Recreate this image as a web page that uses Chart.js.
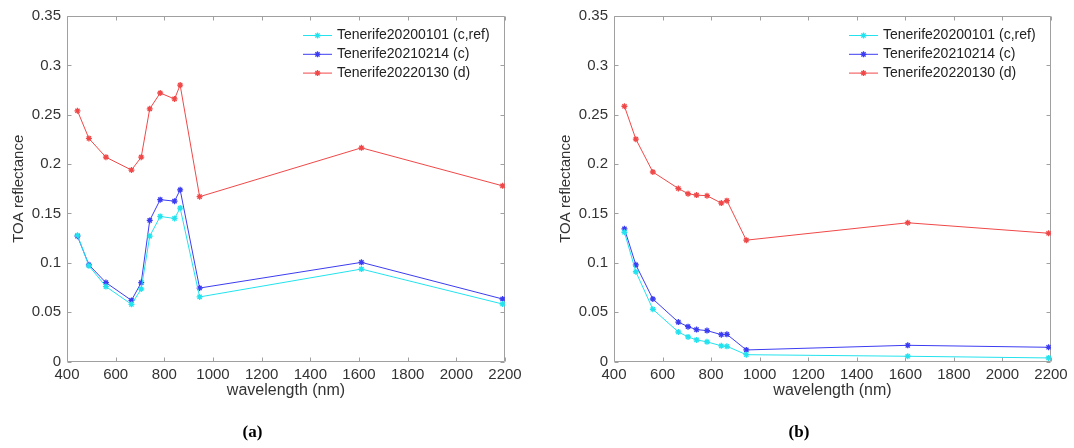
<!DOCTYPE html>
<html><head><meta charset="utf-8">
<script src="https://cdn.jsdelivr.net/npm/chart.js@4.4.0/dist/chart.umd.min.js"></script>
<style>
html,body{margin:0;padding:0;background:#fff;}
#wrap{position:relative;width:1074px;height:448px;overflow:hidden;}
.p{position:absolute;top:0;height:448px;}
#pa{left:0;width:537px;}
#pb{left:547px;width:527px;}
</style></head><body>
<div id="wrap">
<div class="p" id="pa"><canvas id="ca" width="537" height="448"></canvas></div>
<div class="p" id="pb"><canvas id="cb" width="527" height="448"></canvas></div>
</div>
<script>
// ---- data ----
const wavelengths = [443, 490, 560, 665, 705, 740, 783, 842, 865, 945, 1610, 2190];
const seriesLabels = ['Tenerife20200101 (c,ref)', 'Tenerife20210214 (c)', 'Tenerife20220130 (d)'];
const seriesColors = ['#22e3ee', '#3c3cf2', '#f04848'];

const panelA_20200101 = [0.128, 0.097, 0.076, 0.058, 0.0735, 0.127, 0.147, 0.145, 0.1555, 0.0655, 0.0937, 0.0583];
const panelA_20210214 = [0.127, 0.098, 0.080, 0.062, 0.080, 0.143, 0.164, 0.1625, 0.174, 0.0745, 0.1005, 0.0634];
const panelA_20220130 = [0.254, 0.226, 0.207, 0.194, 0.207, 0.256, 0.272, 0.266, 0.280, 0.167, 0.2165, 0.178];

const panelB_20200101 = [0.131, 0.091, 0.053, 0.030, 0.025, 0.022, 0.020, 0.016, 0.0155, 0.007, 0.0054, 0.0037];
const panelB_20210214 = [0.1345, 0.098, 0.0634, 0.040, 0.0354, 0.0324, 0.0314, 0.0273, 0.0276, 0.0118, 0.0165, 0.0145];
const panelB_20220130 = [0.2586, 0.2253, 0.192, 0.1753, 0.170, 0.1686, 0.168, 0.1605, 0.163, 0.123, 0.1406, 0.130];

const xTicks = [400, 600, 800, 1000, 1200, 1400, 1600, 1800, 2000, 2200];
const yTicks = [0, 0.05, 0.1, 0.15, 0.2, 0.25, 0.3, 0.35];

const FONT = '"Liberation Sans", Arial, Helvetica, sans-serif';

const framePlugin = {
  id: 'mframe',
  beforeDatasetsDraw(chart) {
    const { ctx, chartArea: a, scales } = chart;
    const L = Math.round(a.left) + 0.5, R = Math.round(a.right) - 0.5;
    const T = Math.round(a.top) + 0.5, B = Math.round(a.bottom) - 0.5;
    ctx.save();
    ctx.strokeStyle = '#a0a0a0';
    ctx.lineWidth = 1;
    ctx.beginPath();
    ctx.rect(L, T, R - L, B - T);
    ctx.stroke();
    ctx.beginPath();
    scales.x.ticks.forEach(t => {
      const px = Math.round(scales.x.getPixelForValue(t.value)) + 0.5;
      ctx.moveTo(px, B); ctx.lineTo(px, B - 4);
      ctx.moveTo(px, T); ctx.lineTo(px, T + 4);
    });
    scales.y.ticks.forEach(t => {
      const py = Math.round(scales.y.getPixelForValue(t.value)) + 0.5;
      ctx.moveTo(L, py); ctx.lineTo(L + 4, py);
      ctx.moveTo(R, py); ctx.lineTo(R - 4, py);
    });
    ctx.stroke();
    ctx.restore();
  }
};

const legendPlugin = {
  id: 'mlegend',
  afterDatasetsDraw(chart) {
    const { ctx, chartArea: a } = chart;
    const x0 = a.right - 202;
    ctx.save();
    ctx.font = '14px ' + FONT;
    ctx.textBaseline = 'middle';
    ctx.textAlign = 'left';
    chart.data.datasets.forEach((ds, i) => {
      const y = a.top + 19.5 + i * 18.8;
      ctx.strokeStyle = ds.borderColor;
      ctx.fillStyle = ds.borderColor;
      ctx.lineWidth = 1;
      ctx.beginPath(); ctx.moveTo(x0, y); ctx.lineTo(x0 + 29, y); ctx.stroke();
      ctx.lineWidth = 1.3;
      Chart.helpers.drawPoint(ctx, { pointStyle: 'star', radius: 3, borderWidth: 1.3, rotation: 0 }, x0 + 14.5, y);
      ctx.fillStyle = '#222';
      ctx.fillText(ds.label, x0 + 34, y);
    });
    ctx.restore();
  }
};

function makeData(arrs) {
  return {
    datasets: arrs.map((vals, i) => ({
      label: seriesLabels[i],
      data: wavelengths.map((w, j) => ({ x: w, y: vals[j] })),
      borderColor: seriesColors[i],
      backgroundColor: seriesColors[i],
      borderWidth: 1,
      pointStyle: 'star',
      pointRadius: 3,
      pointBorderWidth: 1.3,
      pointHoverRadius: 3,
      tension: 0,
      fill: false
    }))
  };
}

function makeChart(id, arrs, title, padRight) {
  return new Chart(document.getElementById(id), {
    type: 'line',
    data: makeData(arrs),
    options: {
      responsive: false,
      animation: false,
      events: [],
      layout: { padding: { top: 16, right: padRight, bottom: 0, left: 0 } },
      plugins: {
        legend: { display: false },
        tooltip: { enabled: false },
        title: {
          display: true, position: 'bottom', text: title, color: '#000',
          font: { family: '"Liberation Serif", "Times New Roman", serif', size: 17, weight: 'bold' },
          padding: { top: 22, bottom: 5 }
        }
      },
      scales: {
        x: {
          type: 'linear', min: 400, max: 2200,
          afterBuildTicks: s => { s.ticks = xTicks.map(v => ({ value: v })); },
          afterFit: s => { s.height = 39; },
          grid: { display: false, drawTicks: false },
          border: { display: false },
          ticks: { color: '#333', font: { family: FONT, size: 15 }, padding: 4, maxRotation: 0, autoSkip: false,
                   callback: v => String(v) },
          title: { display: true, text: 'wavelength (nm)', color: '#333', font: { family: FONT, size: 16 }, padding: { top: 0, bottom: 0 } }
        },
        y: {
          type: 'linear', min: 0, max: 0.35,
          afterBuildTicks: s => { s.ticks = yTicks.map(v => ({ value: v })); },
          afterFit: s => { s.width = 67; },
          grid: { display: false, drawTicks: false },
          border: { display: false },
          ticks: { color: '#333', font: { family: FONT, size: 15 }, padding: 6, autoSkip: false,
                   callback: v => String(+(+v).toFixed(2)) },
          title: { display: true, text: 'TOA reflectance', color: '#333', font: { family: FONT, size: 15 }, padding: { top: 10, bottom: 0 } }
        }
      }
    },
    plugins: [framePlugin, legendPlugin]
  });
}

makeChart('ca', [panelA_20200101, panelA_20210214, panelA_20220130], '(a)', 32);
makeChart('cb', [panelB_20200101, panelB_20210214, panelB_20220130], '(b)', 23);
</script>
</body></html>
